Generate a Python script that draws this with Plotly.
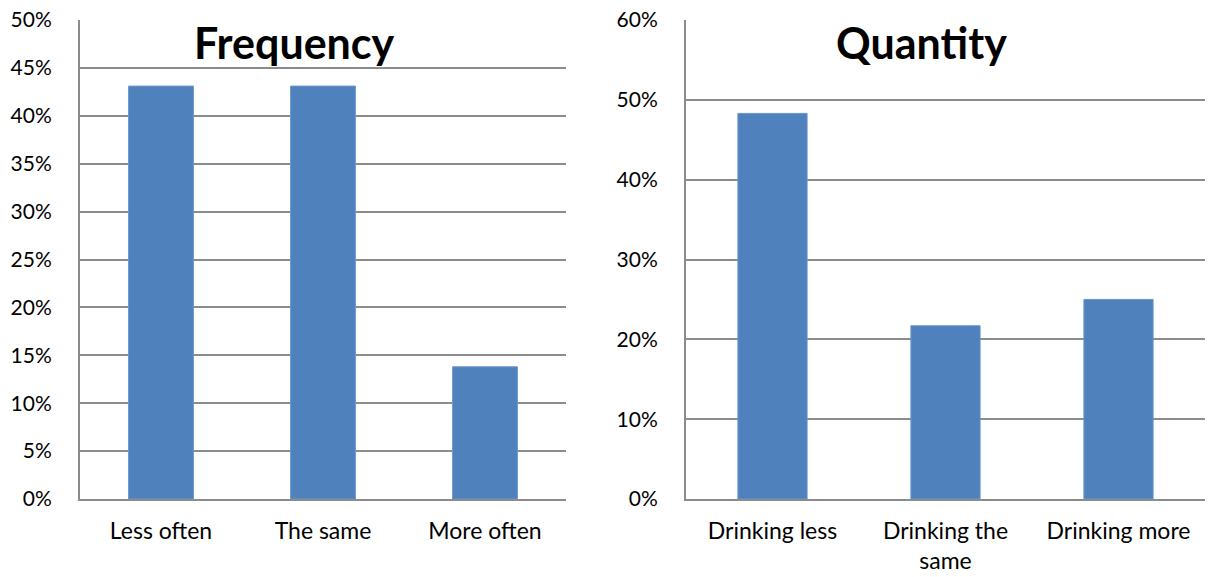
import plotly.graph_objects as go

# Survey results: change in drinking habits
freq_categories = ["Less often", "The same", "More often"]
freq_values = [0.431, 0.431, 0.138]

qty_categories = ["Drinking less", "Drinking the<br>same", "Drinking more"]
qty_values = [0.483, 0.217, 0.250]

freq_ticks = [i * 0.05 for i in range(11)]
qty_ticks = [i * 0.10 for i in range(7)]

W, H = 1216, 577
BAR = "#4F81BD"
GRID = "#8C8C8C"
FONT = "Lato"

def fx(px):
    return px / W

def fy(py):
    return 1 - py / H

fig = go.Figure()
fig.add_trace(go.Bar(x=freq_categories, y=freq_values, marker_color=BAR,
                     marker_line=dict(color="#6A96CC", width=1), width=0.4,
                     xaxis="x", yaxis="y", showlegend=False))
fig.add_trace(go.Bar(x=qty_categories, y=qty_values, marker_color=BAR,
                     marker_line=dict(color="#6A96CC", width=1), width=0.4,
                     xaxis="x2", yaxis="y2", showlegend=False))

ydom = [fy(499), fy(20)]
common_x = dict(showline=True, linecolor=GRID, linewidth=2, showgrid=False,
                ticks="", tickfont=dict(family=FONT, size=23, color="black"),
                ticklabelstandoff=10, fixedrange=True, automargin=False)
common_y = dict(showline=True, linecolor=GRID, linewidth=2, showgrid=True,
                gridcolor=GRID, gridwidth=1.5, zeroline=False, ticks="",
                tickformat=".0%", tickfont=dict(family=FONT, size=21, color="black"),
                ticklabelstandoff=22, fixedrange=True, automargin=False)

fig.update_layout(
    width=W, height=H,
    margin=dict(l=0, r=0, t=0, b=0, autoexpand=False),
    paper_bgcolor="white", plot_bgcolor="white",
    bargap=0.6,
    xaxis=dict(domain=[fx(80), fx(566)], anchor="y", **common_x),
    yaxis=dict(domain=ydom, anchor="x", range=[0, 0.5], tickvals=freq_ticks, **common_y),
    xaxis2=dict(domain=[fx(686), fx(1205)], anchor="y2", **common_x),
    yaxis2=dict(domain=ydom, anchor="x2", range=[0, 0.6], tickvals=qty_ticks, **common_y),
    annotations=[
        dict(text="<b>Frequency</b>", x=fx(294), y=fy(42), xref="paper", yref="paper",
             xanchor="center", yanchor="middle", showarrow=False,
             font=dict(family=FONT, size=43, color="black")),
        dict(text="<b>Quantity</b>", x=fx(921), y=fy(42), xref="paper", yref="paper",
             xanchor="center", yanchor="middle", showarrow=False,
             font=dict(family=FONT, size=43, color="black")),
    ],
)

fig.write_html("out.html")
